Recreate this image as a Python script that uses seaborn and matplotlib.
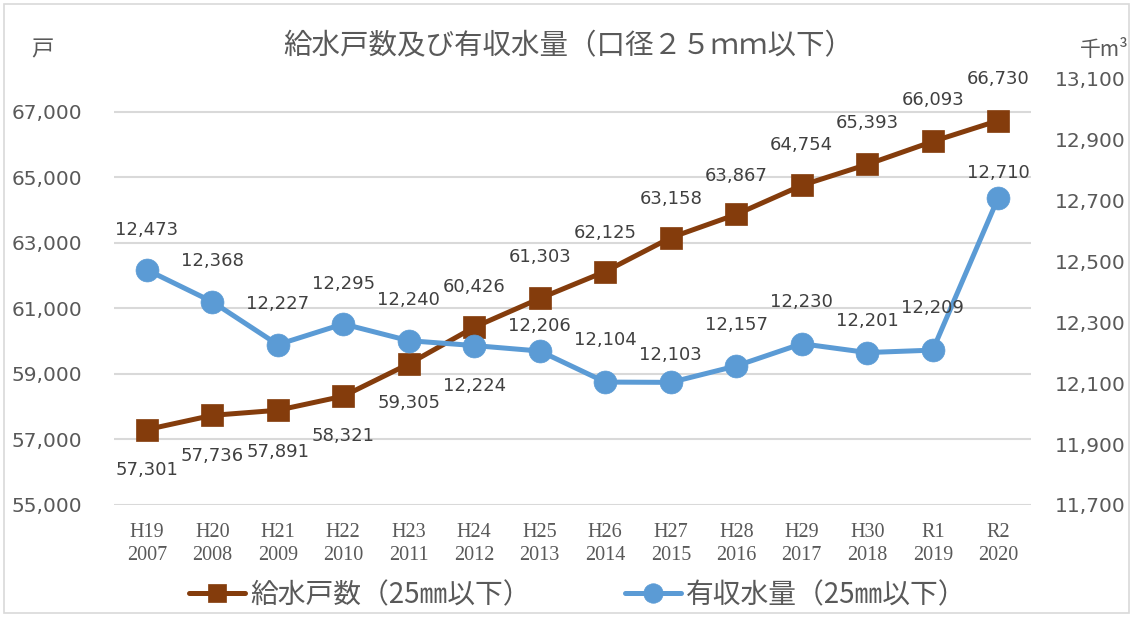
import numpy as np
import pandas as pd
import matplotlib
matplotlib.use("Agg")
import matplotlib.pyplot as plt
import seaborn as sns
from matplotlib.ticker import FuncFormatter, FixedLocator
from matplotlib.patches import Rectangle

# ---- data ----
era_labels = ["H19", "H20", "H21", "H22", "H23", "H24", "H25", "H26", "H27", "H28", "H29", "H30", "R1", "R2"]
year_labels = ["2007", "2008", "2009", "2010", "2011", "2012", "2013", "2014", "2015", "2016", "2017", "2018", "2019", "2020"]
households = [57301, 57736, 57891, 58321, 59305, 60426, 61303, 62125, 63158, 63867, 64754, 65393, 66093, 66730]
water_volume = [12473, 12368, 12227, 12295, 12240, 12224, 12206, 12104, 12103, 12157, 12230, 12201, 12209, 12710]

# label placement (style): vertical offset in points, negative = below
households_label_dy = [-29, -29, -30, -29, -28, 29, 30, 28, 28, 28, 29, 30, 30, 30]
water_label_dy = [29, 29.5, 29, 29, 29, -29, 18, 30, 19.5, 29.5, 30, 23, 30, 18]

title = "給水戸数及び有収水量（口径２５ｍｍ以下）"
name_households = "給水戸数（25㎜以下）"
name_water = "有収水量（25㎜以下）"

BROWN = "#843C0C"
BLUE = "#5B9BD5"
GRAY = "#595959"
DGRAY = "#404040"
GRID = "#D9D9D9"

sns.set_theme(style="white")
plt.rcParams["font.family"] = ["DejaVu Sans", "Noto Sans CJK JP"]

cats = [f"{e}\n{y}" for e, y in zip(era_labels, year_labels)]
xpos = np.arange(len(cats))
df = pd.DataFrame({"x": xpos, "households": households, "water": water_volume})

fig = plt.figure(figsize=(11.33, 6.17), dpi=100)
ax = fig.add_axes([114 / 1133, 1 - 505 / 617, (1031 - 114) / 1133, (505 - 79) / 617])
ax2 = ax.twinx()

sns.lineplot(data=df, x="x", y="households", ax=ax, color=BROWN, lw=3.6, marker="s",
             markersize=16, markeredgewidth=0.5, markeredgecolor=BROWN, label=name_households,
             legend=False)
sns.lineplot(data=df, x="x", y="water", ax=ax2, color=BLUE, lw=3.6, marker="o",
             markersize=16.5, markeredgewidth=0.5, markeredgecolor=BLUE, label=name_water,
             legend=False)

ax.set_xlim(-0.5, len(cats) - 0.5)
ax.set_ylim(55000, 68000)
ax2.set_ylim(11700, 13100)
ax.yaxis.set_major_locator(FixedLocator(np.arange(55000, 67001, 2000)))
ax2.yaxis.set_major_locator(FixedLocator(np.arange(11700, 13101, 200)))
fmt = FuncFormatter(lambda v, p: f"{int(v):,}")
ax.yaxis.set_major_formatter(fmt)
ax2.yaxis.set_major_formatter(fmt)
ax.set_xticks(xpos)
ax.set_xticklabels(cats, family="Liberation Serif", fontsize=14.5, color=GRAY, linespacing=1.3)

ax.grid(axis="y", color=GRID, lw=1.5)
ax.grid(axis="x", visible=False)
ax.set_axisbelow(True)
for a in (ax, ax2):
    for s in a.spines.values():
        s.set_visible(False)
    a.set_xlabel("")
    a.set_ylabel("")
    a.tick_params(length=0)
ax.tick_params(axis="y", labelsize=14.5, labelcolor=GRAY, pad=23)
ax2.tick_params(axis="y", labelsize=14.5, labelcolor=GRAY, pad=17)
ax.tick_params(axis="x", pad=13)

# data labels
for i, (v, dy) in enumerate(zip(households, households_label_dy)):
    ax.annotate(f"{v:,}", (xpos[i], v), xytext=(0, dy), textcoords="offset points",
                ha="center", va="center", fontsize=13, color=DGRAY)
for i, (v, dy) in enumerate(zip(water_volume, water_label_dy)):
    ax2.annotate(f"{v:,}", (xpos[i], v), xytext=(0, dy), textcoords="offset points",
                 ha="center", va="center", fontsize=13, color=DGRAY)

# titles / units
fig.text(0.502, 1 - 46 / 617, title, ha="center", va="center", fontsize=20.5,
         color=GRAY, family=["Noto Sans CJK JP", "DejaVu Sans"])
fig.text(42 / 1133, 1 - 50 / 617, "戸", ha="center", va="center", fontsize=16,
         color=GRAY, family=["Noto Sans CJK JP", "DejaVu Sans"])
fig.text(1080 / 1133, 1 - 50 / 617, "千m³", ha="left", va="center", fontsize=15,
         color=GRAY, family=["Noto Sans CJK JP", "DejaVu Sans"])

# legend
h1, l1 = ax.get_legend_handles_labels()
h2, l2 = ax2.get_legend_handles_labels()
leg = fig.legend(h1 + h2, l1 + l2, loc="center", bbox_to_anchor=(0.51, 1 - 595 / 617),
                 ncol=2, frameon=False, handlelength=2.0, handletextpad=0.2, markerscale=0.85,
                 columnspacing=3.4, prop={"family": ["Noto Sans CJK JP", "DejaVu Sans"], "size": 20})
for t in leg.get_texts():
    t.set_color(GRAY)

# outer border
fig.patches.append(Rectangle((4 / 1133, 4 / 617), 1 - 8 / 1133, 1 - 8 / 617,
                             transform=fig.transFigure, fill=False, edgecolor=GRID, lw=1.2))

fig.savefig("out.png", dpi=100)
